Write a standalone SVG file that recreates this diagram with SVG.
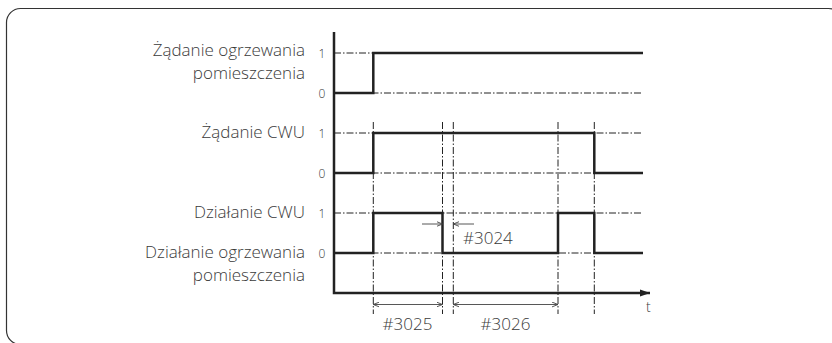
<svg xmlns="http://www.w3.org/2000/svg" width="832" height="343" viewBox="0 0 832 343">
<defs>
<style>
.lbl{font-family:"Open Sans","Liberation Sans",sans-serif;font-weight:300;font-size:17px;fill:#3a3a3a;text-anchor:end}
.lvl{font-family:"Open Sans","Liberation Sans",sans-serif;font-weight:300;font-size:12px;fill:#3a3a3a;text-anchor:middle}
.dim{font-family:"Open Sans","Liberation Sans",sans-serif;font-weight:300;font-size:17px;fill:#3a3a3a}
.sig{fill:none;stroke:#222;stroke-width:2.5;stroke-linejoin:miter}
.dd{fill:none;stroke:#222;stroke-width:1;stroke-dasharray:7 2 1.5 2}
.dl{fill:none;stroke:#444;stroke-width:0.9}
</style>
<marker id="chev" markerUnits="userSpaceOnUse" viewBox="0 0 6 6" refX="6" refY="3" markerWidth="6" markerHeight="6" orient="auto-start-reverse">
<path d="M0,0.6 L6,3 L0,5.4" fill="none" stroke="#444" stroke-width="0.9"/>
</marker>
<marker id="arr" markerUnits="userSpaceOnUse" viewBox="0 0 10 8" refX="10" refY="4" markerWidth="10" markerHeight="8" orient="auto">
<path d="M0,0.5 L10,4 L0,7.5 Z" fill="#222"/>
</marker>
</defs>
<rect id="frame" x="6.5" y="8.5" width="836" height="336" rx="14" fill="none" stroke="#333" stroke-width="1.2"/>

<g id="grid">
<path class="dd" d="M334,53H643M334,93H643M334,133H643M334,173H643M334,213H643M334,253H643"/>
<path class="dd" d="M373.3,122V314M442.5,122V314M453.3,122V314M558,122V314M594.3,122V314"/>
</g>

<g id="axes">
<path class="sig" d="M334,32V293H650" marker-end="url(#arr)"/>
<text class="lvl" x="646" y="312" style="text-anchor:start;font-size:14px">t</text>
</g>

<g id="room-heating-request">
<text class="lbl" x="305" y="56">Żądanie ogrzewania</text>
<text class="lbl" x="305" y="79">pomieszczenia</text>
<text class="lvl" x="322" y="57.5">1</text>
<text class="lvl" x="322" y="97.5">0</text>
<path class="sig" d="M334,93H373.3V53H643"/>
</g>

<g id="dhw-request">
<text class="lbl" x="305" y="138">Żądanie CWU</text>
<text class="lvl" x="322" y="137.5">1</text>
<text class="lvl" x="322" y="177.5">0</text>
<path class="sig" d="M334,173H373.3V133H594.3V173H643"/>
</g>

<g id="dhw-operation">
<text class="lbl" x="305" y="218">Działanie CWU</text>
<text class="lbl" x="305" y="258">Działanie ogrzewania</text>
<text class="lbl" x="305" y="281">pomieszczenia</text>
<text class="lvl" x="322" y="217.5">1</text>
<text class="lvl" x="322" y="257.5">0</text>
<path class="sig" d="M334,253H373.3V213H442.5V253H558V213H594.3V253H643"/>
</g>

<g id="connectors">
<path class="dl" d="M422,224H442.5" marker-end="url(#chev)"/>
<path class="dl" d="M474,224H453.3" marker-end="url(#chev)"/>
<path class="dl" d="M373.3,304.5H442.5" marker-start="url(#chev)" marker-end="url(#chev)"/>
<path class="dl" d="M453.3,304.5H558" marker-start="url(#chev)" marker-end="url(#chev)"/>
</g>

<g id="dimension-labels">
<text class="dim" x="463" y="244">#3024</text>
<text class="dim" x="407.5" y="330" text-anchor="middle">#3025</text>
<text class="dim" x="505.5" y="330" text-anchor="middle">#3026</text>
</g>
</svg>
